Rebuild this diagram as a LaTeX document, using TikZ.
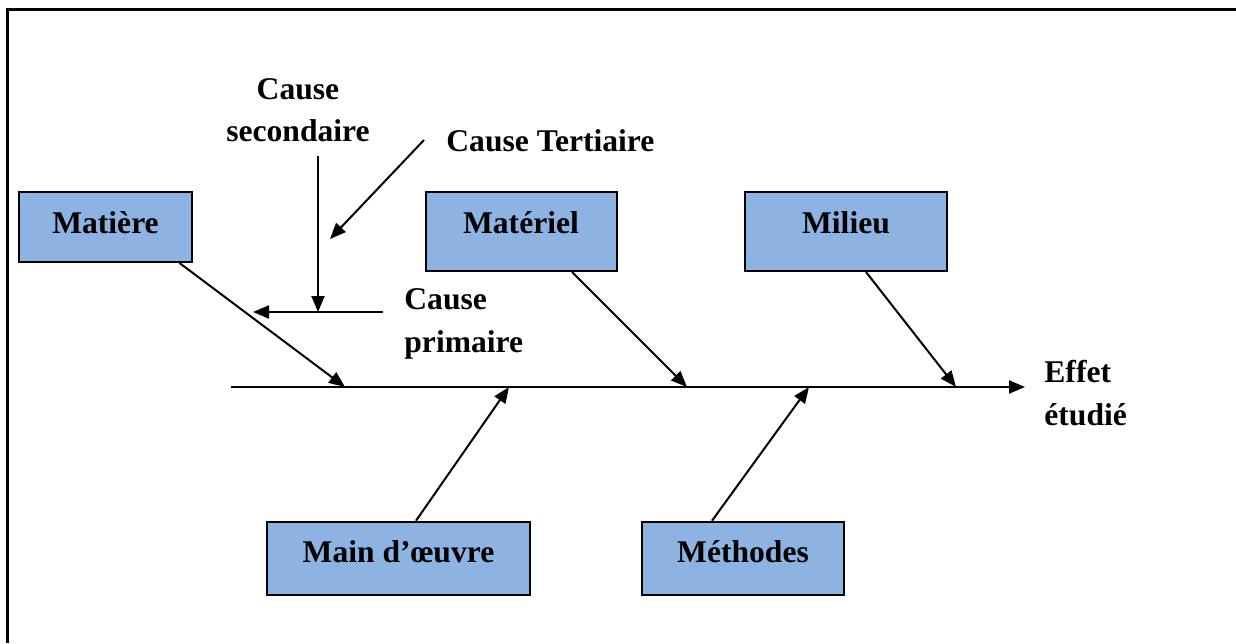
\documentclass[tikz,border=0pt]{standalone}
\usepackage{fontspec}
\setmainfont{Liberation Serif}
\usetikzlibrary{arrows.meta}
\definecolor{boxblue}{HTML}{8DB3E2}
\newcommand{\txtfont}{\bfseries\fontsize{15.8}{21.3}\selectfont}
\begin{document}
\begin{tikzpicture}[x=0.5pt,y=-0.5pt,
	box/.style={draw,line width=1pt,fill=boxblue,inner sep=0pt,text height=20.5pt,anchor=base,font=\txtfont},
	lbl/.style={inner sep=0pt,anchor=base west,align=left,font=\txtfont},
	arr/.style={line width=1pt,-{Triangle[length=8pt,width=6.5pt]}}]
	\useasboundingbox (0,0) rectangle (1236,643);
	\draw[line width=1.5pt] (1236,9) -- (7,9) -- (7,643);
	% causes
	\node[box,minimum width=86.5pt,text depth=14.5pt] (matiere) at (105.5,233) {Matière};
	\node[box,minimum width=95.5pt,text depth=19pt] (materiel) at (521,233) {Matériel};
	\node[box,minimum width=101pt,text depth=19pt] (milieu) at (846,233) {Milieu};
	\node[box,minimum width=131.5pt,text depth=16pt] (main) at (398.5,562.7) {Main d’œuvre};
	\node[box,minimum width=101pt,text depth=16pt] (methodes) at (743,562.7) {Méthodes};
	% spine
	\coordinate (tail) at (231,387);
	\coordinate (head) at (1025,387);
	\coordinate (h1) at (345,387);
	\coordinate (h2) at (687,387);
	\coordinate (h3) at (956,387);
	\coordinate (h4) at (509,387);
	\coordinate (h5) at (809,387);
	\draw[arr] (tail) -- (head);
	\node[lbl] (effet) at (1044,425) {Effet\\étudié};
	\draw[arr] ([xshift=37pt]matiere.south) -- (h1);
	\draw[arr] ([xshift=25.5pt]materiel.south) -- (h2);
	\draw[arr] ([xshift=10pt]milieu.south) -- (h3);
	\draw[arr] ([xshift=8.75pt]main.north) -- (h4);
	\draw[arr] ([xshift=-15.5pt]methodes.north) -- (h5);
	% legend
	\node[lbl,anchor=base,align=center] (sec) at (298,141.7) {Cause\\secondaire};
	\node[lbl] (ter) at (446,151.7) {Cause Tertiaire};
	\node[lbl] (prim) at (404,352) {Cause\\primaire};
	\coordinate (s0) at (318,156);
	\coordinate (s1) at (318,312);
	\coordinate (p0) at (383,312);
	\coordinate (p1) at (253,312);
	\coordinate (t0) at (424,140);
	\coordinate (t1) at (330,239);
	\draw[arr] (s0) -- (s1);
	\draw[arr] (p0) -- (p1);
	\draw[arr] (t0) -- (t1);
\end{tikzpicture}
\end{document}
